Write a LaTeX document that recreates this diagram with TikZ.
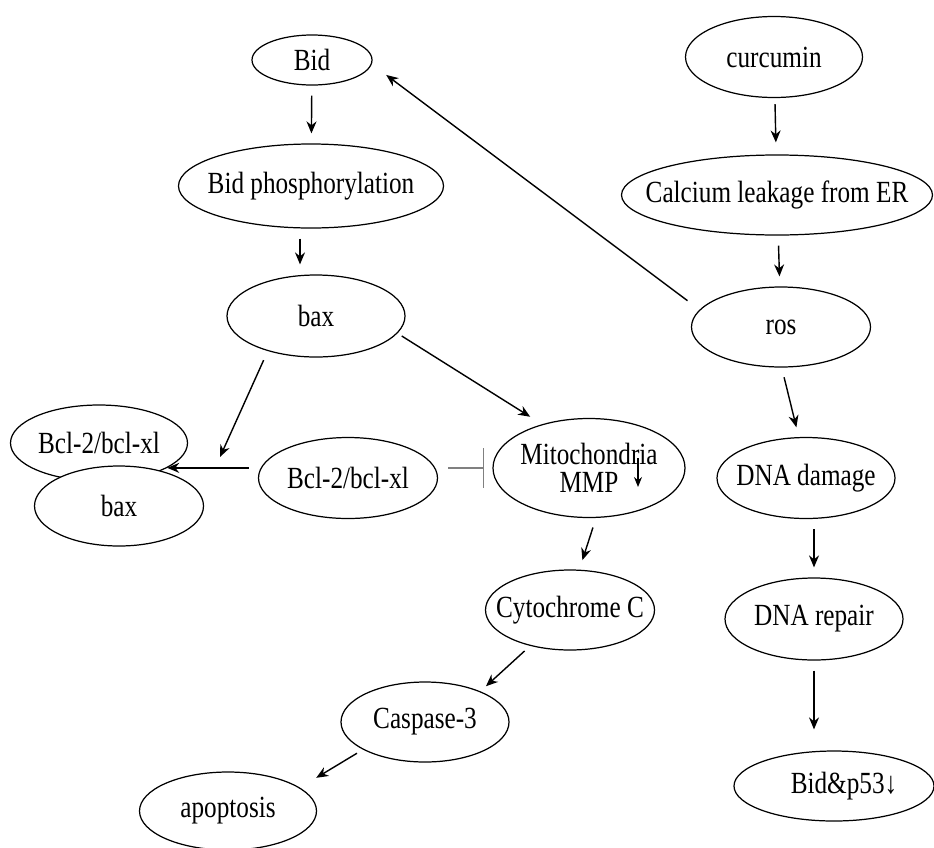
\documentclass[tikz,border=0pt]{standalone}
\usepackage{fontspec}
\setmainfont{Liberation Serif}[FakeStretch=0.82]
\usetikzlibrary{arrows.meta, shapes.geometric}

\begin{document}
\begin{tikzpicture}[
  ov/.style={draw, ellipse, line width=0.7pt, fill=white, inner xsep=-0.45cm, inner ysep=0pt, align=center, font=\fontsize{17.5}{16}\selectfont},
  arr/.style={-{Stealth[length=2.4mm, width=2mm]}, line width=0.8pt, shorten <=0.2cm, shorten >=0.2cm},
  blk/.style={-{Bar[width=8mm]}, draw=gray, line width=0.7pt}
]
  \useasboundingbox (0,0) rectangle (18.68,-16.94);
  % left column
  \node[ov, minimum width=2.4cm, minimum height=1.0cm] (bid) at (6.24,-1.2) {Bid};
  \node[ov, minimum width=5.3cm, minimum height=1.68cm] (phos) at (6.22,-3.72) {Bid phosphorylation};
  \node[ov, minimum width=3.56cm, minimum height=1.64cm] (bax) at (6.32,-6.32) {bax};
  \node[ov, minimum width=3.54cm, minimum height=1.52cm] (bcla) at (1.98,-8.86) {Bcl-2/bcl-xl};
  \node[ov, minimum width=3.38cm, minimum height=1.6cm] (baxb) at (2.38,-10.12) {bax};
  \node[ov, minimum width=3.58cm, minimum height=1.62cm] (bclm) at (6.96,-9.56) {Bcl-2/bcl-xl};
  \node[ov, minimum width=3.84cm, minimum height=1.98cm] (mito) at (11.78,-9.36) {Mitochondria\\MMP};
  \node[ov, minimum width=3.38cm, minimum height=1.6cm] (cyt) at (11.4,-12.2) {Cytochrome C};
  \node[ov, minimum width=3.36cm, minimum height=1.6cm] (casp) at (8.5,-14.44) {Caspase-3};
  \node[ov, minimum width=3.54cm, minimum height=1.56cm] (apop) at (4.56,-16.22) {apoptosis};
  % right column
  \node[ov, minimum width=3.54cm, minimum height=1.62cm] (curc) at (15.48,-1.14) {curcumin};
  \node[ov, minimum width=6.22cm, minimum height=1.6cm] (calc) at (15.54,-3.9) {Calcium leakage from ER};
  \node[ov, minimum width=3.58cm, minimum height=1.6cm] (ros) at (15.62,-6.54) {ros};
  \node[ov, minimum width=3.56cm, minimum height=1.62cm] (dnad) at (16.12,-9.56) {DNA damage};
  \node[ov, minimum width=3.56cm, minimum height=1.64cm] (dnar) at (16.28,-12.38) {DNA repair};
  \node[ov, minimum width=4.0cm, minimum height=1.4cm] (p53) at (16.68,-15.72) {\hspace{0.4cm}Bid\&p53↓};
  \coordinate (cpx) at (4.4,-9.14);

  \draw[arr] (bid) -- (phos);
  \draw[arr] ([xshift=-0.22cm]phos.south) -- ([xshift=-0.22cm]phos.south |- bax.north);
  \draw[arr, shorten >=0cm] (bax.216) -- (cpx);
  \draw[arr, shorten <=0.1cm, shorten >=0.28cm] (bax.-12) -- (mito.137);
  \draw[arr, shorten <=0.18cm, shorten >=0cm] (bclm.west |- bcla.-20) -- (bcla.-20);
  \draw[blk, shorten <=0.2cm, shorten >=0.16cm] (bclm.east |- mito.west) -- (mito.west);
  \draw[-{Stealth[length=2mm, width=1.6mm]}, line width=0.7pt] ([shift={(0.98,0.2)}]mito.center) -- ++(0,-0.58);
  \draw[arr] (mito.-82) -- (cyt.77);
  \draw[arr, shorten <=0.15cm, shorten >=0.15cm] (cyt.222) -- (casp.29);
  \draw[arr, shorten <=0.14cm, shorten >=0.38cm] (casp.204) -- (apop.18);
  \draw[arr, shorten <=0.12cm, shorten >=0.24cm] (curc) -- (calc);
  \draw[arr] (calc) -- (ros);
  \draw[arr, shorten <=0.3cm, shorten >=0.36cm] (ros.168) -- (bid.-4);
  \draw[arr] (ros.-89) -- (dnad.100);
  \draw[arr] (dnad.south -| dnar) -- (dnar.north);
  \draw[arr, shorten >=0.42cm] (dnar.south) -- (dnar.south |- p53.north);
\end{tikzpicture}
\end{document}
